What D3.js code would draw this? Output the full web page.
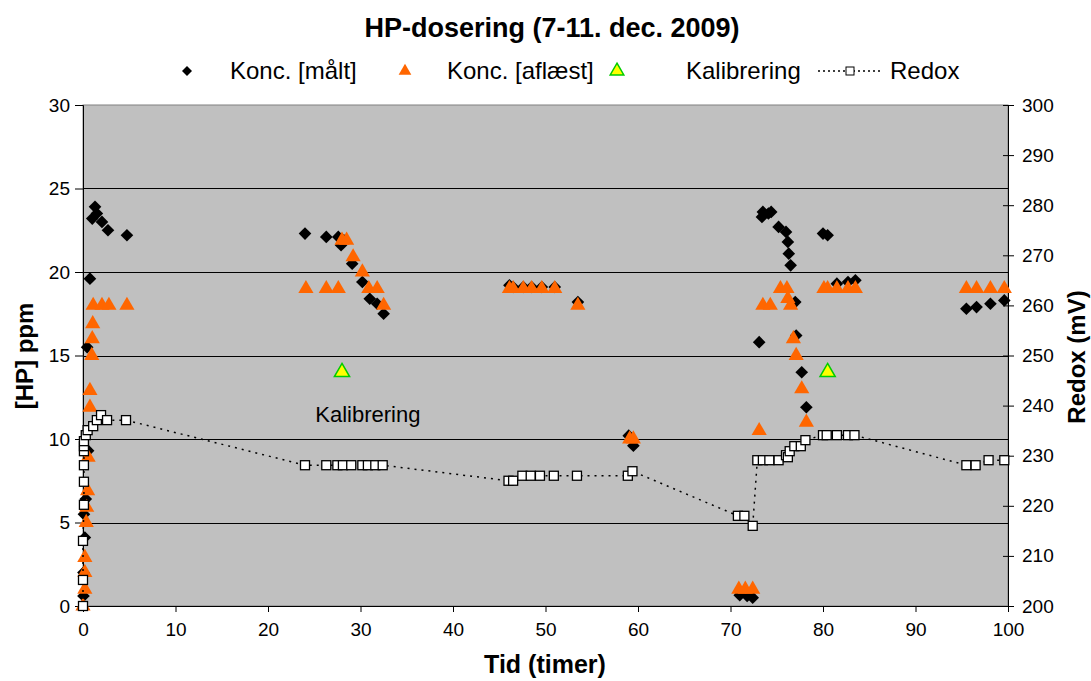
<!DOCTYPE html>
<html>
<head>
<meta charset="utf-8">
<script src="https://cdn.jsdelivr.net/npm/d3@7"></script>
<style>
  body { margin: 0; background: #fff; }
  text { font-family: Arial, "Liberation Sans", sans-serif; fill: #000; }
</style>
</head>
<body>
<script>
var width = 1091,
    height = 681;

// Konc. [målt] - black diamonds
var maaltTid  = [0.1, 0.2, 0.3, 0.45, 0.55, 0.75, 1.0, 1.3, 1.5, 2.05, 2.7, 4.75, 0.05, 0.05,
                 24.0, 26.3, 27.6, 27.9, 28.2, 29.1, 30.2, 31.0, 31.8, 32.5,
                 46.1, 46.5, 47.6, 48.5, 49.6, 51.0, 53.5, 59.0, 59.5,
                 71.0, 71.8, 72.4, 73.1, 73.4, 73.5, 74.1, 74.4, 75.2, 76.0, 76.2, 76.3, 76.5, 77.0, 77.1, 77.7, 78.2,
                 80.0, 80.5, 81.5, 82.7, 83.5,
                 95.5, 96.6, 98.1, 99.6];
var maaltKonc = [5.5, 4.1, 6.4, 15.5, 9.3, 19.6, 23.2, 23.9, 23.5, 23.0, 22.5, 22.2, 2.0, 0.6,
                 22.3, 22.1, 22.1, 21.6, 21.9, 20.5, 19.4, 18.4, 18.1, 17.5,
                 19.2, 19.1, 19.1, 19.1, 19.1, 19.1, 18.2, 10.2, 9.6,
                 0.65, 0.6, 0.5, 15.8, 23.3, 23.6, 23.5, 23.6, 22.7, 22.4, 21.8, 21.1, 20.4, 18.2, 16.2, 14.0, 11.9,
                 22.3, 22.2, 19.3, 19.4, 19.5,
                 17.8, 17.9, 18.1, 18.3];

// Konc. [aflæst] - orange triangles
var aflaestTid  = [0, 0.2, 0.2, 0.2, 0.35, 0.4, 0.5, 0.55, 0.75, 0.75, 0.95, 1.0, 1.05, 1.1, 2.05, 2.8, 4.75,
                   24.1, 26.3, 27.6, 28.0, 28.5, 29.2, 30.2, 30.9, 31.8, 32.5,
                   46.1, 46.5, 47.6, 48.5, 49.6, 51.0, 53.5, 59.1, 59.5,
                   70.9, 71.6, 72.4, 73.1, 73.5, 74.3, 75.4, 76.1, 76.2, 76.5, 76.8, 77.1, 77.7, 78.2,
                   80.1, 80.5, 81.5, 82.7, 83.5,
                   95.5, 96.6, 98.1, 99.6];
var aflaestKonc = [0, 1.0, 2.0, 2.9, 5.0, 5.9, 6.9, 8.9, 11.9, 12.9, 15.0, 16.0, 16.9, 18.0, 18.0, 18.0, 18.0,
                   19.0, 19.0, 19.0, 21.9, 21.9, 20.9, 20.0, 19.0, 19.0, 18.0,
                   19.0, 19.0, 19.0, 19.0, 19.0, 19.0, 18.0, 10.0, 10.0,
                   1.0, 1.0, 1.0, 10.5, 18.0, 18.0, 19.0, 19.0, 18.4, 18.0, 16.0, 15.0, 13.0, 11.0,
                   19.0, 19.0, 19.0, 19.0, 19.0,
                   19.0, 19.0, 19.0, 19.0];

// Kalibrering - green triangles
var kalibTid  = [28.0, 80.5];
var kalibKonc = [14.0, 14.0];

// Redox [mV] - secondary axis
var redoxTid = [0, 0, 0, 0.1, 0.1, 0.1, 0.1, 0.1, 0.1, 0.3, 0.5, 1.1, 1.5, 1.95, 2.6, 4.65,
                24.0, 26.3, 27.5, 28.1, 29.0, 30.2, 30.8, 31.6, 32.4,
                46.0, 46.5, 47.5, 48.4, 49.4, 50.9, 53.4, 58.9, 59.4,
                70.8, 71.5, 72.4, 72.9, 73.5, 74.2, 75.2, 76.0, 76.2, 76.4, 76.9, 77.6, 78.1,
                80.0, 80.4, 81.5, 82.7, 83.4,
                95.5, 96.5, 97.9, 99.6];
var redoxMv  = [200, 205.2, 213.0, 220.2, 224.8, 228.1, 230.9, 231.9, 232.9, 234.1, 235.1, 235.9, 237.1, 238.1, 237.1, 237.1,
                228.1, 228.1, 228.1, 228.1, 228.1, 228.1, 228.1, 228.1, 228.1,
                225.0, 225.0, 226.0, 226.0, 226.0, 226.0, 226.0, 226.0, 226.9,
                218.0, 218.0, 216.0, 229.1, 229.1, 229.1, 229.1, 230.1, 229.7, 230.9, 231.9, 231.9, 233.1,
                234.1, 234.1, 234.1, 234.1, 234.1,
                228.1, 228.1, 229.1, 229.1];

var xTicks = [0, 10, 20, 30, 40, 50, 60, 70, 80, 90, 100];
var yTicks = [0, 5, 10, 15, 20, 25, 30];
var y2Ticks = [200, 210, 220, 230, 240, 250, 260, 270, 280, 290, 300];

var margin = {left: 83, top: 105};
var pw = 1008 - 83, ph = 606 - 105;

var x = d3.scaleLinear().domain([0, 100]).range([0, pw]);
var y = d3.scaleLinear().domain([0, 30]).range([ph, 0]);
var y2 = d3.scaleLinear().domain([200, 300]).range([ph, 0]);

var svg = d3.select("body").append("svg")
    .attr("width", width)
    .attr("height", height);

var g = svg.append("g")
    .attr("transform", "translate(" + margin.left + "," + margin.top + ")");

g.append("rect")
    .attr("width", pw)
    .attr("height", ph)
    .attr("fill", "#c0c0c0")
    .attr("stroke", "#808080");

g.selectAll(".grid")
    .data(yTicks.slice(1, -1))
  .enter().append("line")
    .attr("x1", 0)
    .attr("x2", pw)
    .attr("y1", function(d) { return Math.round(y(d)) + 0.5; })
    .attr("y2", function(d) { return Math.round(y(d)) + 0.5; })
    .attr("stroke", "#000");

// axes
var xAxis = g.append("g")
    .attr("transform", "translate(0," + ph + ")")
    .call(d3.axisBottom(x).tickValues(xTicks).tickSize(6).tickPadding(11));
var yAxis = g.append("g")
    .call(d3.axisLeft(y).tickValues(yTicks).tickSize(8).tickPadding(5));
var y2Axis = g.append("g")
    .attr("transform", "translate(" + pw + ",0)")
    .call(d3.axisRight(y2).tickValues(y2Ticks).tickSize(6).tickPadding(8));

[xAxis, yAxis, y2Axis].forEach(function(a) {
  a.select(".domain").attr("stroke", "#000");
  a.selectAll(".tick line").attr("stroke", "#000");
  a.selectAll(".tick text")
      .style("font-size", "19px")
      .style("font-family", "Arial, 'Liberation Sans', sans-serif");
});
y2Axis.selectAll(".tick line").attr("x1", -5);

// Konc. [målt]
g.selectAll(".maalt")
    .data(d3.range(maaltTid.length))
  .enter().append("path")
    .attr("d", d3.symbol().type(d3.symbolSquare).size(80))
    .attr("transform", function(i) { return "translate(" + x(maaltTid[i]) + "," + y(maaltKonc[i]) + ") rotate(45)"; })
    .attr("fill", "#000");

// Konc. [aflæst]
var tri = d3.symbol().type(d3.symbolTriangle).size(100);
g.selectAll(".aflaest")
    .data(d3.range(aflaestTid.length))
  .enter().append("path")
    .attr("d", tri)
    .attr("transform", function(i) { return "translate(" + x(aflaestTid[i]) + "," + y(aflaestKonc[i]) + ")"; })
    .attr("fill", "#ff6600");

// Kalibrering
g.selectAll(".kalib")
    .data(d3.range(kalibTid.length))
  .enter().append("path")
    .attr("d", tri)
    .attr("transform", function(i) { return "translate(" + x(kalibTid[i]) + "," + y(kalibKonc[i]) + ")"; })
    .attr("fill", "#ffff00")
    .attr("stroke", "#00cc00")
    .attr("stroke-width", 1.5);

g.append("text")
    .attr("x", x(30.8))
    .attr("y", y(11.0))
    .attr("text-anchor", "middle")
    .style("font-size", "22px")
    .text("Kalibrering");

// Redox
var line = d3.line()
    .x(function(i) { return x(redoxTid[i]); })
    .y(function(i) { return y2(redoxMv[i]); });

g.append("path")
    .datum(d3.range(redoxTid.length))
    .attr("d", line)
    .attr("fill", "none")
    .attr("stroke", "#000")
    .attr("stroke-width", 1.5)
    .attr("stroke-dasharray", "2,5");

g.selectAll(".redox")
    .data(d3.range(redoxTid.length))
  .enter().append("rect")
    .attr("x", function(i) { return x(redoxTid[i]) - 4.5; })
    .attr("y", function(i) { return y2(redoxMv[i]) - 4.5; })
    .attr("width", 9)
    .attr("height", 9)
    .attr("fill", "#fff")
    .attr("stroke", "#000")
    .attr("stroke-width", 1.3);

// titles
svg.append("text")
    .attr("x", 552)
    .attr("y", 37)
    .attr("text-anchor", "middle")
    .style("font-size", "27px")
    .style("font-weight", "bold")
    .text("HP-dosering (7-11. dec. 2009)");

svg.append("text")
    .attr("x", 545)
    .attr("y", 673)
    .attr("text-anchor", "middle")
    .style("font-size", "25px")
    .style("font-weight", "bold")
    .text("Tid (timer)");

svg.append("text")
    .attr("transform", "translate(33,356) rotate(-90)")
    .attr("text-anchor", "middle")
    .style("font-size", "24px")
    .style("font-weight", "bold")
    .text("[HP] ppm");

svg.append("text")
    .attr("transform", "translate(1085,357) rotate(-90)")
    .attr("text-anchor", "middle")
    .style("font-size", "24px")
    .style("font-weight", "bold")
    .text("Redox (mV)");

// legend
var leg = svg.append("g").attr("transform", "translate(0,71)");
leg.append("path")
    .attr("d", d3.symbol().type(d3.symbolSquare).size(50))
    .attr("transform", "translate(187,0) rotate(45)")
    .attr("fill", "#000");
leg.append("text").attr("x", 230).attr("y", 8).style("font-size", "24px").text("Konc. [målt]");
leg.append("path")
    .attr("d", d3.symbol().type(d3.symbolTriangle).size(70))
    .attr("transform", "translate(405,0)")
    .attr("fill", "#ff6600");
leg.append("text").attr("x", 447).attr("y", 8).style("font-size", "24px").text("Konc. [aflæst]");
leg.append("path")
    .attr("d", d3.symbol().type(d3.symbolTriangle).size(80))
    .attr("transform", "translate(617,0)")
    .attr("fill", "#ffff00")
    .attr("stroke", "#00cc00")
    .attr("stroke-width", 1.5);
leg.append("text").attr("x", 686).attr("y", 8).style("font-size", "24px").text("Kalibrering");
leg.append("line")
    .attr("x1", 818).attr("x2", 882)
    .attr("stroke", "#000")
    .attr("stroke-width", 1.5)
    .attr("stroke-dasharray", "2,3");
leg.append("rect")
    .attr("x", 846).attr("y", -4).attr("width", 8).attr("height", 8)
    .attr("fill", "#fff").attr("stroke", "#000");
leg.append("text").attr("x", 890).attr("y", 8).style("font-size", "24px").text("Redox");
</script>
</body>
</html>
